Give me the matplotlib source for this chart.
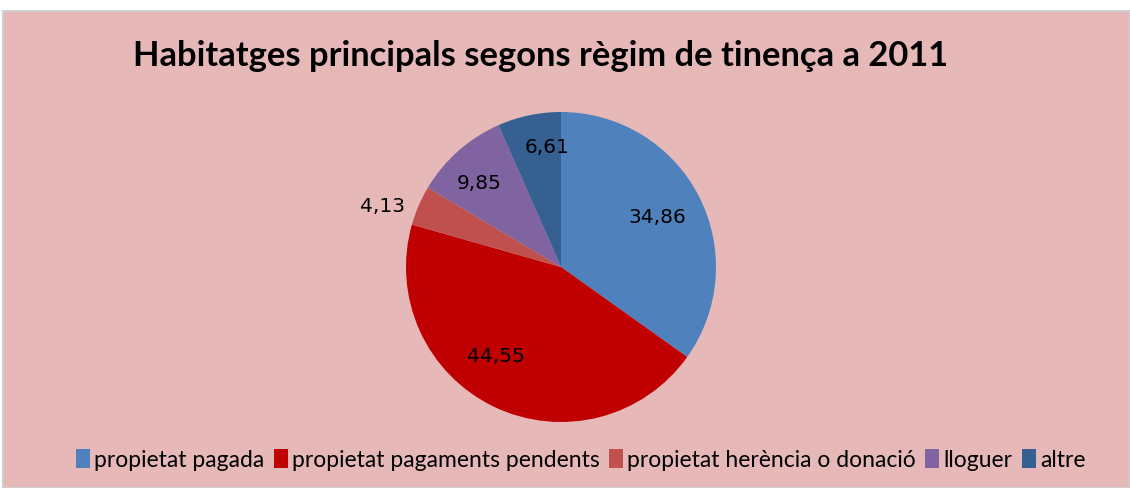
import numpy as np
import matplotlib.pyplot as plt

labels = ['propietat pagada', 'propietat pagaments pendents', 'propietat herència o donació', 'lloguer', 'altre']
values = [34.86, 44.55, 4.13, 9.85, 6.61]
colors = ['#4F81BD', '#C00000', '#C0504D', '#8064A2', '#376092']
# value label placement: radial distance (fraction of radius) and angle shift (deg)
label_dist = [0.70, 0.71, 1.22, 0.76, 0.78]
label_shift = [0.3, -10.9, 4.3, 2.5, -5.2]

FONT = ['Lato', 'DejaVu Sans']

fig = plt.figure(figsize=(11.3, 4.89), dpi=100)
fig.patch.set_facecolor('white')

# chart area background
bg = fig.add_axes([3/1130, 0, 1 - 3/1130, (489-12)/489], zorder=0)
bg.set_facecolor('#E6B9B8')
bg.set_xticks([])
bg.set_yticks([])
for s in bg.spines.values():
    s.set_color('#D0D0D0')
    s.set_linewidth(1.5)

cx, cy, R = 561, 268, 155
ax = fig.add_axes([(cx-R)/1130, (489-cy-R)/489, 2*R/1130, 2*R/489], zorder=1)
wedges, _ = ax.pie(values, colors=colors, startangle=90, counterclock=False, radius=1)
ax.set_xlim(-1, 1)
ax.set_ylim(-1, 1)

for w, v, d, sh in zip(wedges, values, label_dist, label_shift):
    ang = np.deg2rad((w.theta1 + w.theta2) / 2 + sh)
    ax.text(d*np.cos(ang), d*np.sin(ang), ('%.2f' % v).replace('.', ','),
            ha='center', va='center', fontsize=14.5, color='black', family='DejaVu Sans')

fig.text(0.478, 0.885, 'Habitatges principals segons règim de tinença a 2011',
         ha='center', va='center', fontsize=24.8, fontweight='bold', family=FONT, zorder=2)

leg = fig.legend(wedges, labels, loc='center', bbox_to_anchor=(0.514, 0.058), ncol=5, frameon=False,
                 handlelength=0.6, handleheight=0.9, handletextpad=0.2, columnspacing=0.4,
                 prop={'family': FONT, 'size': 16.5})
leg.set_zorder(2)

fig.savefig('out.png', dpi=100)
